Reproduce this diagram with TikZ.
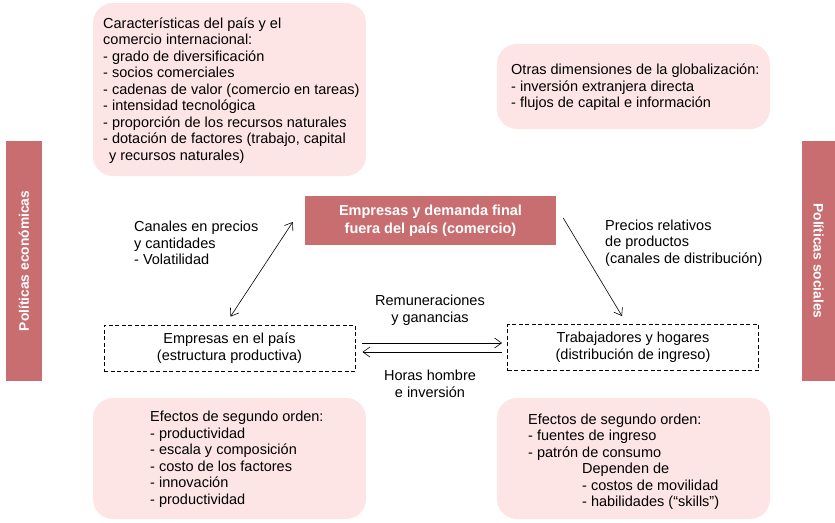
\documentclass[tikz,border=0pt]{standalone}
\usepackage{fontspec}
\setmainfont{Liberation Sans}
\usetikzlibrary{arrows.meta,calc}
\definecolor{pinkfill}{RGB}{252,229,228}
\definecolor{barred}{RGB}{200,110,112}
\tikzset{
  roundbox/.style={fill=pinkfill,rounded corners=20pt,minimum width=273pt,inner sep=0pt},
  bar/.style={fill=barred,inner sep=0pt,text=white,font=\fontsize{13.8}{15}\selectfont\bfseries},
  dashbox/.style={draw,line width=0.9pt,dash pattern=on 4pt off 2.5pt,minimum width=251pt,minimum height=46pt,inner sep=0pt,align=center},
  txt/.style={inner sep=0pt,align=left,font=\fontsize{14.5}{16.5}\selectfont},
  ctxt/.style={inner sep=0pt,align=center,font=\fontsize{14.5}{16.5}\selectfont},
  arr/.style={line width=0.6pt,-{Straight Barb[length=7pt,width=10pt]}},
  darr/.style={line width=0.6pt,{Straight Barb[length=7pt,width=10pt]}-{Straight Barb[length=7pt,width=10pt]}}
}
\begin{document}
\begin{tikzpicture}[x=1pt,y=-1pt]
\useasboundingbox (0,0) rectangle (835,522);
% rounded boxes
\node[roundbox,minimum height=173pt] (tl) at (229.5,89.5) {};
\node[txt,anchor=west] (tltxt) at (103,90.5) {Características del país y el\\comercio internacional:\\- grado de diversificación\\- socios comerciales\\- cadenas de valor (comercio en tareas)\\- intensidad tecnológica\\- proporción de los recursos naturales\\- dotación de factores (trabajo, capital\\\hspace*{0.4em}y recursos naturales)};
\node[roundbox,minimum height=85pt] (tr) at (633.5,86.5) {};
\node[txt,anchor=west] (trtxt) at (511,87.5) {Otras dimensiones de la globalización:\\- inversión extranjera directa\\- flujos de capital e información};
\node[roundbox,minimum height=121pt] (bl) at (229.5,458.5) {};
\node[txt,anchor=west] (bltxt) at (150,459) {Efectos de segundo orden:\\- productividad\\- escala y composición\\- costo de los factores\\- innovación\\- productividad};
\node[roundbox,minimum height=121pt] (br) at (633.5,458.5) {};
\node[txt,anchor=west] (brtxt) at (528,461.5) {Efectos de segundo orden:\\- fuentes de ingreso\\- patrón de consumo\\\hspace*{54pt}Dependen de\\\hspace*{54pt}- costos de movilidad\\\hspace*{54pt}- habilidades (“skills”)};
% bars
\node[bar,rotate=90,minimum width=240pt,minimum height=36pt] (lbar) at (24,261) {Políticas económicas};
\node[bar,rotate=-90,minimum width=240pt,minimum height=33pt] (rbar) at (818.5,261) {Políticas sociales};
% center box
\node[fill=barred,text=white,minimum width=251pt,minimum height=49pt,inner sep=0pt,align=center,font=\fontsize{14.5}{18}\selectfont\bfseries] (cb) at (430.5,220.5) {Empresas y demanda final\\fuera del país (comercio)};
% dashed boxes
\node[dashbox,font=\fontsize{14.5}{17}\selectfont] (lb) at (229.5,348) {Empresas en el país\\(estructura productiva)};
\node[dashbox,font=\fontsize{14.5}{17}\selectfont] (rb) at (633,347.5) {Trabajadores y hogares\\(distribución de ingreso)};
% labels
\node[txt,anchor=west] (l1) at (134,243) {Canales en precios\\y cantidades\\- Volatilidad};
\node[txt,anchor=west] (l2) at (605,243) {Precios relativos\\de productos\\(canales de distribución)};
\node[ctxt] (l3) at (430,310) {Remuneraciones\\y ganancias};
\node[ctxt] (l4) at (430,384) {Horas hombre\\e inversión};
% arrows
\draw[darr] ([yshift=8pt,xshift=1pt]lb.north) -- ([xshift=-12pt,yshift=-1.5pt]cb.west);
\draw[arr] ([xshift=7pt,yshift=2.5pt]cb.east) -- ([xshift=-11pt,yshift=8pt]rb.north);
\draw[arr] ([xshift=7pt,yshift=5pt]lb.east) -- ([xshift=-5pt,yshift=4.5pt]rb.west);
\draw[arr] ([xshift=-5pt,yshift=-4.5pt]rb.west) -- ([xshift=7pt,yshift=-4pt]lb.east);
\end{tikzpicture}
\end{document}
